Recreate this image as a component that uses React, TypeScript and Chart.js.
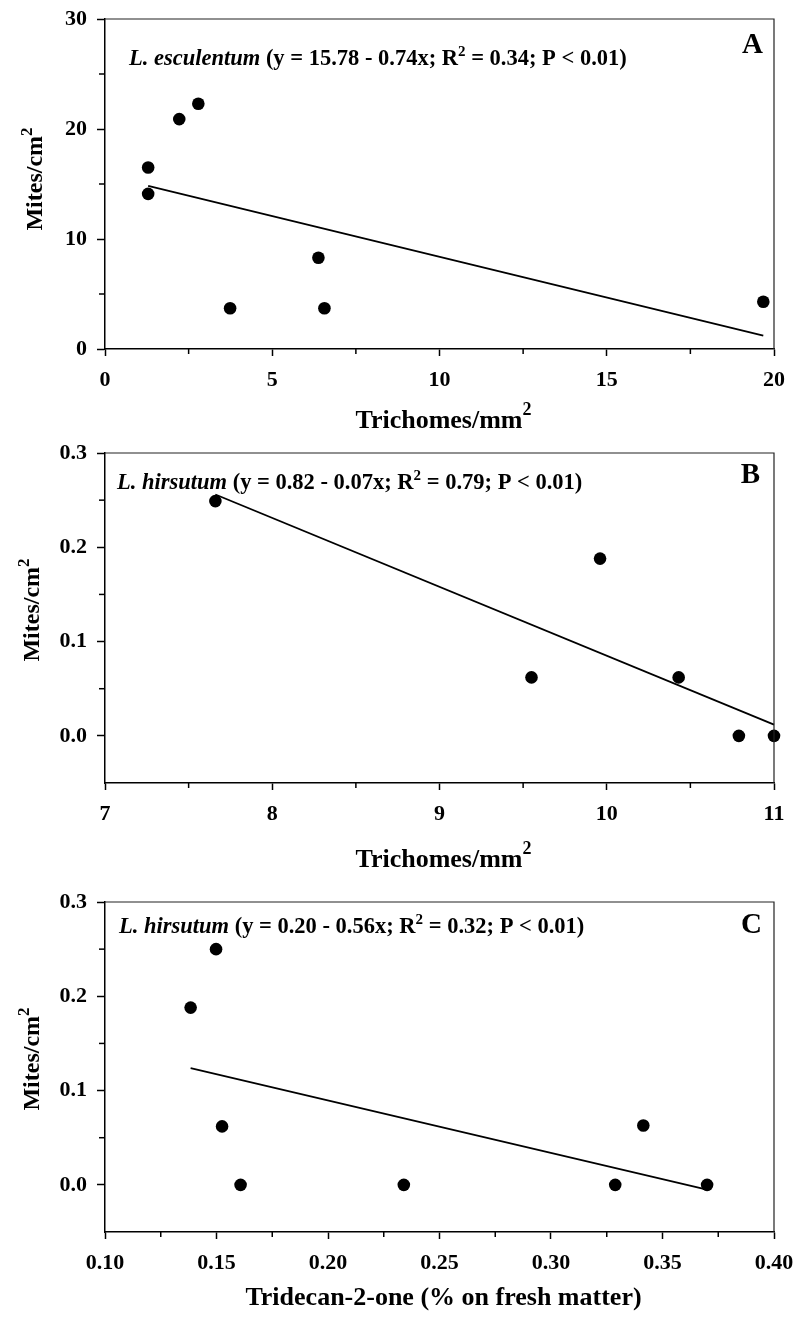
import React, { useEffect, useRef } from "react";
import { Chart, registerables } from "chart.js";

Chart.register(...registerables);

const FONT = '"Liberation Serif", "Times New Roman", Times, serif';

// ---------- Panel A: L. esculentum ----------
const aTrichomes = [1.29, 1.29, 2.22, 2.79, 3.74, 6.38, 6.56, 19.68];
const aMites = [16.5, 14.1, 20.9, 22.3, 3.7, 8.3, 3.7, 4.3];
const aFitX = [1.29, 19.68];
const aFitY = [14.83, 1.22];
const aXMajor = [0, 5, 10, 15, 20];
const aXMinor = [2.5, 7.5, 12.5, 17.5];
const aYMajor = [0, 10, 20, 30];
const aYMinor = [5, 15, 25];

// ---------- Panel B: L. hirsutum, trichomes ----------
const bTrichomes = [7.66, 9.96, 9.55, 10.43, 10.79, 11.0];
const bMites = [0.249, 0.188, 0.062, 0.062, 0.0, 0.0];
const bFitX = [7.66, 11.0];
const bFitY = [0.256, 0.012];
const bXMajor = [7, 8, 9, 10, 11];
const bXMinor = [7.5, 8.5, 9.5, 10.5];
const bYMajor = [0.0, 0.1, 0.2, 0.3];
const bYMinor = [-0.05, 0.05, 0.15, 0.25];

// ---------- Panel C: L. hirsutum, tridecan-2-one ----------
const cTridecanone = [0.1498, 0.1384, 0.1525, 0.1608, 0.234, 0.3288, 0.3414, 0.37];
const cMites = [0.25, 0.188, 0.062, 0.0, 0.0, 0.0, 0.063, 0.0];
const cFitX = [0.1384, 0.369];
const cFitY = [0.1238, -0.0046];
const cXMajor = [0.1, 0.15, 0.2, 0.25, 0.3, 0.35, 0.4];
const cXMinor = [0.125, 0.175, 0.225, 0.275, 0.325, 0.375];
const cYMajor = [0.0, 0.1, 0.2, 0.3];
const cYMinor = [-0.05, 0.05, 0.15, 0.25];

const bold = (s: number) => `bold ${s}px ${FONT}`;
const boldItalic = (s: number) => `italic bold ${s}px ${FONT}`;

type Seg = { t: string; f: string; dy?: number };

function drawRich(ctx: CanvasRenderingContext2D, segs: Seg[], x: number, y: number, align: "left" | "center" | "right") {
  let w = 0;
  for (const s of segs) {
    ctx.font = s.f;
    w += ctx.measureText(s.t).width;
  }
  let cx = align === "left" ? x : align === "center" ? x - w / 2 : x - w;
  ctx.textAlign = "left";
  ctx.textBaseline = "alphabetic";
  for (const s of segs) {
    ctx.font = s.f;
    ctx.fillText(s.t, cx, y + (s.dy || 0));
    cx += ctx.measureText(s.t).width;
  }
}

const annoSize = 22.5;
const supA = 15;
const anno = (species: string, rest1: string, rest2: string): Seg[] => [
  { t: species, f: boldItalic(annoSize) },
  { t: rest1, f: bold(annoSize) },
  { t: "2", f: bold(supA), dy: -9 },
  { t: rest2, f: bold(annoSize) },
];

const titleSize = 26;
const supT = 18;
const trichTitle: Seg[] = [
  { t: "Trichomes/mm", f: bold(titleSize) },
  { t: "2", f: bold(supT), dy: -13 },
];
const tridTitle: Seg[] = [{ t: "Tridecan-2-one (% on fresh matter)", f: bold(titleSize) }];
const mitesTitle: Seg[] = [
  { t: "Mites/cm", f: bold(24) },
  { t: "2", f: bold(17), dy: -10 },
];

type PanelCfg = {
  top: number;
  height: number;
  xs: number[];
  ys: number[];
  fitX: number[];
  fitY: number[];
  xMajor: number[];
  xMinor: number[];
  yMajor: number[];
  yMinor: number[];
  xDigits: number;
  yDigits: number;
  annotation: Seg[];
  annoX: number;
  annoY: number;
  letter: string;
  letterX: number;
  letterY: number;
  xTitle: Seg[];
  xTitleY: number;
  yTitleX: number;
  yTitleDy: number;
};

const panels: PanelCfg[] = [
  {
    top: 0, height: 434,
    xs: aTrichomes, ys: aMites, fitX: aFitX, fitY: aFitY,
    xMajor: aXMajor, xMinor: aXMinor, yMajor: aYMajor, yMinor: aYMinor,
    xDigits: 0, yDigits: 0,
    annotation: anno("L. esculentum", " (y = 15.78 - 0.74x; R", " = 0.34; P < 0.01)"),
    annoX: 24, annoY: 46, letter: "A", letterX: 763, letterY: 34,
    xTitle: trichTitle, xTitleY: 79, yTitleX: 42, yTitleDy: -5,
  },
  {
    top: 434, height: 449,
    xs: bTrichomes, ys: bMites, fitX: bFitX, fitY: bFitY,
    xMajor: bXMajor, xMinor: bXMinor, yMajor: bYMajor, yMinor: bYMinor,
    xDigits: 0, yDigits: 1,
    annotation: anno("L. hirsutum", " (y = 0.82 - 0.07x; R", " = 0.79; P < 0.01)"),
    annoX: 12, annoY: 36, letter: "B", letterX: 760, letterY: 30,
    xTitle: trichTitle, xTitleY: 84, yTitleX: 39, yTitleDy: -8,
  },
  {
    top: 883, height: 440,
    xs: cTridecanone, ys: cMites, fitX: cFitX, fitY: cFitY,
    xMajor: cXMajor, xMinor: cXMinor, yMajor: cYMajor, yMinor: cYMinor,
    xDigits: 2, yDigits: 1,
    annotation: anno("L. hirsutum", " (y = 0.20 - 0.56x; R", " = 0.32; P < 0.01)"),
    annoX: 14, annoY: 31, letter: "C", letterX: 762, letterY: 31,
    xTitle: tridTitle, xTitleY: 73, yTitleX: 39, yTitleDy: -8,
  },
];

const PLOT_TOP = 19;
const PLOT_H = 330;
const Y_AXIS_W = 105;
const RIGHT_PAD = 23;

function Panel({ cfg }: { cfg: PanelCfg }) {
  const ref = useRef<HTMLCanvasElement | null>(null);
  useEffect(() => {
    const canvas = ref.current;
    if (!canvas) return;
    const xAll = [...cfg.xMajor, ...cfg.xMinor].sort((a, b) => a - b);
    const yAll = [...cfg.yMajor, ...cfg.yMinor].sort((a, b) => a - b);

    const decor = {
      id: "decor",
      afterDraw(chart: any) {
        const ctx: CanvasRenderingContext2D = chart.ctx;
        const { left, right, top, bottom } = chart.chartArea;
        ctx.save();
        ctx.strokeStyle = "#222";
        ctx.lineWidth = 1.2;
        ctx.beginPath();
        ctx.moveTo(left, top);
        ctx.lineTo(right, top);
        ctx.lineTo(right, bottom);
        ctx.stroke();
        ctx.strokeStyle = "#000";
        ctx.lineWidth = 1.5;
        const xs = chart.scales.x;
        const ys = chart.scales.y;
        for (const v of cfg.xMinor) {
          const px = xs.getPixelForValue(v);
          ctx.beginPath();
          ctx.moveTo(px, bottom);
          ctx.lineTo(px, bottom + 5);
          ctx.stroke();
        }
        for (const v of cfg.yMinor) {
          if (v <= ys.min) continue;
          const py = ys.getPixelForValue(v);
          ctx.beginPath();
          ctx.moveTo(left - 6, py);
          ctx.lineTo(left, py);
          ctx.stroke();
        }
        ctx.fillStyle = "#000";
        drawRich(ctx, cfg.annotation, left + cfg.annoX, top + cfg.annoY, "left");
        drawRich(ctx, [{ t: cfg.letter, f: bold(29) }], cfg.letterX, top + cfg.letterY, "right");
        drawRich(ctx, cfg.xTitle, (left + right) / 2 + 4, bottom + cfg.xTitleY, "center");
        ctx.save();
        ctx.translate(cfg.yTitleX, (top + bottom) / 2 + cfg.yTitleDy);
        ctx.rotate(-Math.PI / 2);
        drawRich(ctx, mitesTitle, 0, 0, "center");
        ctx.restore();
        ctx.restore();
      },
    };

    const chart = new Chart(canvas, {
      type: "scatter",
      data: {
        datasets: [
          {
            label: "fit",
            data: cfg.fitX.map((x, i) => ({ x, y: cfg.fitY[i] })),
            showLine: true,
            borderColor: "#000",
            borderWidth: 1.8,
            pointRadius: 0,
            clip: false as any,
          },
          {
            label: "data",
            data: cfg.xs.map((x, i) => ({ x, y: cfg.ys[i] })),
            backgroundColor: "#000",
            borderColor: "#000",
            borderWidth: 0,
            pointRadius: 6.3,
            clip: false as any,
          },
        ],
      },
      options: {
        animation: false,
        responsive: false,
        devicePixelRatio: 1,
        layout: { padding: { top: PLOT_TOP, right: RIGHT_PAD, left: 0, bottom: 0 } },
        plugins: { legend: { display: false }, tooltip: { enabled: false }, title: { display: false } },
        scales: {
          x: {
            type: "linear",
            min: xAll[0],
            max: xAll[xAll.length - 1],
            afterBuildTicks: (scale: any) => {
              scale.ticks = xAll.map((v) => ({ value: v }));
            },
            afterFit: (scale: any) => {
              scale.height = cfg.height - PLOT_TOP - PLOT_H;
              scale.paddingLeft = 0;
              scale.paddingRight = 0;
            },
            border: { display: true, color: "#000", width: 1.5 },
            grid: {
              drawOnChartArea: false,
              drawTicks: true,
              tickLength: 7,
              tickWidth: 1.5,
              tickColor: (c: any) => (c.tick && cfg.xMajor.includes(c.tick.value) ? "#000" : "rgba(0,0,0,0)"),
            },
            ticks: {
              autoSkip: false,
              maxRotation: 0,
              padding: 11,
              color: "#000",
              font: { family: FONT, size: 22, weight: "bold" },
              callback: (v: any) => (cfg.xMajor.includes(v) ? Number(v).toFixed(cfg.xDigits) : ""),
            },
          },
          y: {
            type: "linear",
            min: yAll[0],
            max: yAll[yAll.length - 1],
            afterBuildTicks: (scale: any) => {
              scale.ticks = yAll.map((v) => ({ value: v }));
            },
            afterFit: (scale: any) => {
              scale.width = Y_AXIS_W;
              scale.paddingTop = 0;
              scale.paddingBottom = 0;
            },
            border: { display: true, color: "#000", width: 1.5 },
            grid: {
              drawOnChartArea: false,
              drawTicks: true,
              tickLength: 8,
              tickWidth: 1.5,
              tickColor: (c: any) => (c.tick && cfg.yMajor.includes(c.tick.value) ? "#000" : "rgba(0,0,0,0)"),
            },
            ticks: {
              autoSkip: false,
              padding: 10,
              color: "#000",
              font: { family: FONT, size: 22, weight: "bold" },
              callback: (v: any) => (cfg.yMajor.includes(v) ? Number(v).toFixed(cfg.yDigits) : ""),
            },
          },
        },
      },
      plugins: [decor],
    } as any);
    return () => chart.destroy();
  }, [cfg]);

  return (
    <canvas
      ref={ref}
      width={797}
      height={cfg.height}
      style={{ position: "absolute", left: 0, top: cfg.top, width: 797, height: cfg.height, display: "block" }}
    />
  );
}

export default function App() {
  return (
    <div style={{ position: "absolute", left: 0, top: 0, width: 797, height: 1323, background: "#fff" }}>
      {panels.map((p, i) => (
        <Panel key={i} cfg={p} />
      ))}
    </div>
  );
}
